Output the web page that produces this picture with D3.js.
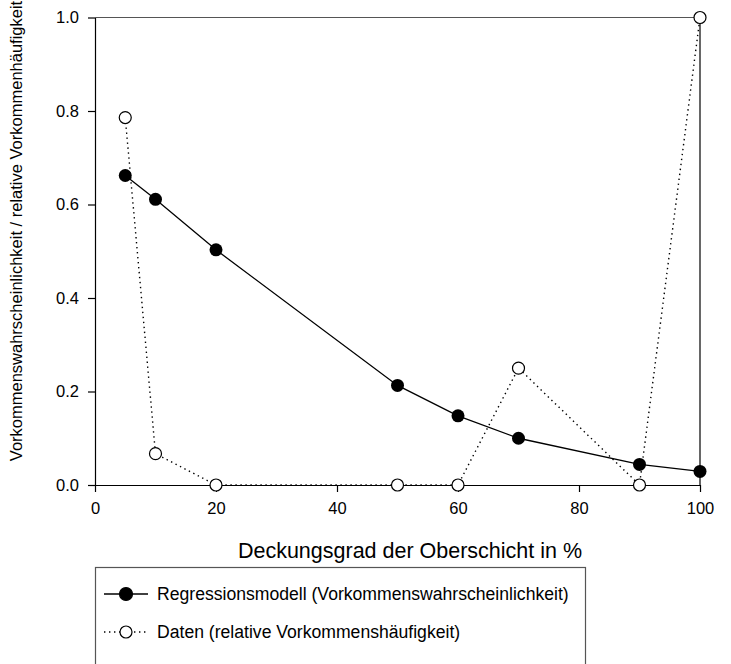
<!DOCTYPE html>
<html>
<head>
<meta charset="utf-8">
<script src="https://cdn.jsdelivr.net/npm/d3@7"></script>
<style>
  body { margin: 0; background: #fff; }
  svg { display: block; font-family: "Liberation Sans", Arial, sans-serif; }
</style>
</head>
<body>
<script>
const width = 731;
const height = 664;
const margin = {top: 17.5, left: 95, bottom: 179, right: 31};

// Deckungsgrad der Oberschicht (%)
const cover = [5, 10, 20, 50, 60, 70, 90, 100];
// Regressionsmodell (Vorkommenswahrscheinlichkeit)
const model = [0.662, 0.611, 0.503, 0.213, 0.148, 0.100, 0.044, 0.029];
// Daten (relative Vorkommenshäufigkeit)
const observed = [0.786, 0.067, 0, 0, 0, 0.25, 0, 1.0];

const xTicks = [0, 20, 40, 60, 80, 100];
const yTicks = [0, 0.2, 0.4, 0.6, 0.8, 1.0];

const x = d3.scaleLinear()
  .domain([0, 100])
  .range([margin.left, width - margin.right]);

const y = d3.scaleLinear()
  .domain([0, 1])
  .range([height - margin.bottom, margin.top]);

const svg = d3.select('body').append('svg')
  .attr('width', width)
  .attr('height', height);

// frame: top (grey) and right lines
svg.append('line')
  .attr('x1', x(0)).attr('x2', x(100))
  .attr('y1', y(1)).attr('y2', y(1))
  .attr('stroke', '#555').attr('stroke-width', 1.2);
svg.append('line')
  .attr('x1', x(100)).attr('x2', x(100))
  .attr('y1', y(1)).attr('y2', y(0))
  .attr('stroke', '#000').attr('stroke-width', 1.2);

const xAxis = g => g
  .attr('transform', `translate(0, ${y(0)})`)
  .call(d3.axisBottom(x).tickValues(xTicks).tickSize(7).tickSizeOuter(0).tickPadding(10))
  .call(g => g.selectAll('line, path').attr('stroke', '#000').attr('stroke-width', 1.2))
  .call(g => g.selectAll('text').attr('font-size', 16.5).attr('fill', '#000')
    .attr('font-family', '"Liberation Sans", Arial, sans-serif'));

const yAxis = g => g
  .attr('transform', `translate(${x(0)}, 0)`)
  .call(d3.axisLeft(y).tickValues(yTicks).tickFormat(d3.format('.1f')).tickSize(7).tickSizeOuter(0).tickPadding(9))
  .call(g => g.selectAll('line, path').attr('stroke', '#000').attr('stroke-width', 1.2))
  .call(g => g.selectAll('text').attr('font-size', 16.5).attr('fill', '#000')
    .attr('font-family', '"Liberation Sans", Arial, sans-serif'));

svg.append('g').call(xAxis);
svg.append('g').call(yAxis);

// axis titles
svg.append('text')
  .attr('x', 410)
  .attr('y', 558)
  .attr('text-anchor', 'middle')
  .attr('font-size', 21.5)
  .text('Deckungsgrad der Oberschicht in %');

svg.append('text')
  .attr('transform', `translate(22, 231) rotate(-90)`)
  .attr('text-anchor', 'middle')
  .attr('font-size', 16.5)
  .text('Vorkommenswahrscheinlichkeit / relative Vorkommenhäufigkeit');

const modelPts = cover.map((c, i) => [c, model[i]]);
const obsPts = cover.map((c, i) => [c, observed[i]]);

const line = d3.line().x(d => x(d[0])).y(d => y(d[1]));

svg.append('path')
  .datum(obsPts)
  .attr('d', line)
  .attr('fill', 'none')
  .attr('stroke', '#000')
  .attr('stroke-width', 1.4)
  .attr('stroke-dasharray', '1.4,3.6');

svg.append('path')
  .datum(modelPts)
  .attr('d', line)
  .attr('fill', 'none')
  .attr('stroke', '#000')
  .attr('stroke-width', 1.3);

svg.append('g')
  .selectAll('circle').data(obsPts).enter().append('circle')
  .attr('cx', d => x(d[0]))
  .attr('cy', d => y(d[1]))
  .attr('r', 6)
  .attr('fill', '#fff')
  .attr('stroke', '#000')
  .attr('stroke-width', 1.2);

svg.append('g')
  .selectAll('circle').data(modelPts).enter().append('circle')
  .attr('cx', d => x(d[0]))
  .attr('cy', d => y(d[1]))
  .attr('r', 6.5)
  .attr('fill', '#000');

// legend
const legend = svg.append('g');
legend.append('rect')
  .attr('x', 95.5).attr('y', 567.5)
  .attr('width', 490).attr('height', 110)
  .attr('fill', 'none')
  .attr('stroke', '#555')
  .attr('stroke-width', 1.2);

const legendItems = [
  {label: 'Regressionsmodell (Vorkommenswahrscheinlichkeit)', filled: true, dash: null},
  {label: 'Daten (relative Vorkommenshäufigkeit)', filled: false, dash: '1.4,3.6'}
];

legendItems.forEach((d, i) => {
  const cy = 594 + i * 38;
  legend.append('line')
    .attr('x1', 104).attr('x2', 148)
    .attr('y1', cy).attr('y2', cy)
    .attr('stroke', '#000')
    .attr('stroke-width', 1.3)
    .attr('stroke-dasharray', d.dash);
  legend.append('circle')
    .attr('cx', 126).attr('cy', cy)
    .attr('r', d.filled ? 6.5 : 6)
    .attr('fill', d.filled ? '#000' : '#fff')
    .attr('stroke', '#000')
    .attr('stroke-width', 1.2);
  legend.append('text')
    .attr('x', 157).attr('y', cy + 6)
    .attr('font-size', 17.6)
    .text(d.label);
});

svg.node();
</script>
</body>
</html>
